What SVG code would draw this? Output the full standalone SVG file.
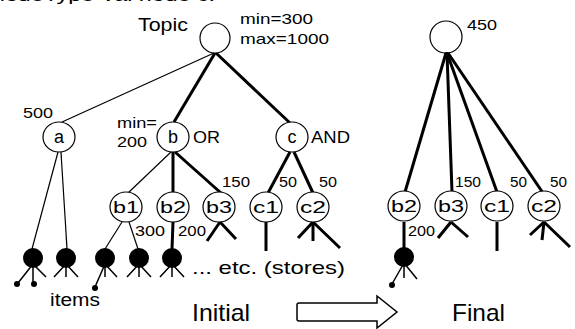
<svg xmlns="http://www.w3.org/2000/svg" width="575" height="329" viewBox="0 0 575 329">
<style>
text{font-family:"Liberation Sans",Arial,sans-serif;fill:#000}
.lbl{font-size:15px}
.nl{font-size:18px;text-anchor:middle}
.nl2{font-size:17px;text-anchor:middle}
.big{font-size:24px}
.node{fill:#fff;stroke:#000;stroke-width:1.2}
.item{fill:#000}
.thin{stroke:#000;stroke-width:1.2;fill:none}
.thick{stroke:#000;stroke-width:3;fill:none}
.leg{stroke:#000;stroke-width:1.5;fill:none}
</style>
<text x="-8" y="1" style="font-size:17px" textLength="223" lengthAdjust="spacingAndGlyphs">nodeType Val node c:</text>
<g id="connectors">
  <line class="thin" x1="214" y1="53" x2="62" y2="122"/>
  <line class="thick" x1="215" y1="53" x2="174" y2="122"/>
  <line class="thick" x1="216" y1="53" x2="290" y2="123"/>
  <line class="thin" x1="58" y1="152" x2="32" y2="249"/>
  <line class="thin" x1="61" y1="152" x2="67" y2="249"/>
  <line class="thin" x1="171" y1="152" x2="128" y2="193"/>
  <line class="thick" x1="173" y1="152" x2="173" y2="193"/>
  <line class="thick" x1="175" y1="152" x2="221" y2="193"/>
  <line class="thick" x1="290" y1="152" x2="268" y2="193"/>
  <line class="thick" x1="294" y1="152" x2="313" y2="193"/>
  <line class="thin" x1="122" y1="222" x2="105" y2="249"/>
  <line class="thin" x1="129" y1="222" x2="138" y2="249"/>
  <line class="thick" x1="173" y1="222" x2="172" y2="249"/>
  <line class="thick" x1="220" y1="222" x2="207" y2="241"/>
  <line class="thick" x1="220" y1="222" x2="236" y2="239"/>
  <line class="thick" x1="266" y1="222" x2="266" y2="251"/>
  <line class="thick" x1="313" y1="222" x2="298" y2="238"/>
  <line class="thick" x1="313" y1="222" x2="313" y2="241"/>
  <line class="thick" x1="313" y1="222" x2="340" y2="248"/>
  <line class="thick" x1="446" y1="53" x2="405" y2="192"/>
  <line class="thick" x1="447" y1="53" x2="452" y2="192"/>
  <line class="thick" x1="447" y1="53" x2="497" y2="192"/>
  <line class="thick" x1="448" y1="53" x2="543" y2="193"/>
  <line class="thick" x1="404" y1="222" x2="404" y2="249"/>
  <line class="thick" x1="451" y1="222" x2="438" y2="238"/>
  <line class="thick" x1="451" y1="222" x2="468" y2="237"/>
  <line class="thick" x1="497" y1="222" x2="497" y2="251"/>
  <line class="thick" x1="544" y1="222" x2="530" y2="235"/>
  <line class="thick" x1="544" y1="222" x2="542" y2="240"/>
  <line class="thick" x1="544" y1="222" x2="570" y2="247"/>
</g>
<g id="topic">
  <circle class="node" cx="215" cy="38" r="15"/>
  <text x="138" y="31" style="font-size:19px" textLength="50" lengthAdjust="spacingAndGlyphs">Topic</text>
  <text class="lbl" x="240" y="24" textLength="73" lengthAdjust="spacingAndGlyphs">min=300</text>
  <text class="lbl" x="240" y="44" textLength="89" lengthAdjust="spacingAndGlyphs">max=1000</text>
</g>
<g id="node-a">
  <ellipse class="node" cx="59" cy="137" rx="16" ry="15"/>
  <text class="nl" x="59" y="143">a</text>
  <text class="lbl" x="23" y="118" textLength="30" lengthAdjust="spacingAndGlyphs">500</text>
</g>
<g id="node-b">
  <ellipse class="node" cx="173" cy="137" rx="16" ry="15"/>
  <text class="nl" x="173" y="143">b</text>
  <text class="lbl" x="117" y="128" textLength="40" lengthAdjust="spacingAndGlyphs">min=</text>
  <text class="lbl" x="117" y="147" textLength="30" lengthAdjust="spacingAndGlyphs">200</text>
  <text x="193" y="143" style="font-size:16px" textLength="27" lengthAdjust="spacingAndGlyphs">OR</text>
</g>
<g id="node-c">
  <ellipse class="node" cx="292" cy="137" rx="16" ry="15"/>
  <text class="nl" x="292" y="143">c</text>
  <text x="311" y="143" style="font-size:16px" textLength="39" lengthAdjust="spacingAndGlyphs">AND</text>
</g>
<g id="node-b1">
  <ellipse class="node" cx="126" cy="207" rx="16" ry="15"/>
  <text class="nl2" x="126" y="213" textLength="26" lengthAdjust="spacingAndGlyphs">b1</text>
</g>
<g id="node-b2">
  <ellipse class="node" cx="173" cy="207" rx="16" ry="15"/>
  <text class="nl2" x="173" y="213" textLength="26" lengthAdjust="spacingAndGlyphs">b2</text>
</g>
<g id="node-b3">
  <ellipse class="node" cx="219" cy="207" rx="16" ry="15"/>
  <text class="nl2" x="219" y="213" textLength="26" lengthAdjust="spacingAndGlyphs">b3</text>
  <text class="lbl" x="222" y="187" textLength="28" lengthAdjust="spacingAndGlyphs">150</text>
</g>
<g id="node-c1">
  <ellipse class="node" cx="266" cy="207" rx="16" ry="15"/>
  <text class="nl2" x="266" y="213" textLength="26" lengthAdjust="spacingAndGlyphs">c1</text>
  <text class="lbl" x="279" y="187" textLength="18" lengthAdjust="spacingAndGlyphs">50</text>
</g>
<g id="node-c2">
  <ellipse class="node" cx="313" cy="207" rx="16" ry="15"/>
  <text class="nl2" x="313" y="213" textLength="26" lengthAdjust="spacingAndGlyphs">c2</text>
  <text class="lbl" x="319" y="187" textLength="18" lengthAdjust="spacingAndGlyphs">50</text>
</g>
<g id="labels-initial">
  <text class="lbl" x="135" y="236" textLength="30" lengthAdjust="spacingAndGlyphs">300</text>
  <text class="lbl" x="178" y="236" textLength="28" lengthAdjust="spacingAndGlyphs">200</text>
  <text x="192" y="274" style="font-size:19px" textLength="153" lengthAdjust="spacingAndGlyphs">... etc. (stores)</text>
  <text x="50" y="306" style="font-size:18px" textLength="50" lengthAdjust="spacingAndGlyphs">items</text>
  <text class="big" x="192" y="321" textLength="58" lengthAdjust="spacingAndGlyphs">Initial</text>
</g>
<g id="item-1">
  <circle class="item" cx="33" cy="258" r="10"/>
  <path class="leg" d="M33 264L18 283M33 264V283M33 264L46 277"/>
  <circle class="item" cx="17" cy="284" r="3"/>
  <circle class="item" cx="34" cy="284" r="3"/>
</g>
<g id="item-2">
  <circle class="item" cx="66" cy="258" r="10"/>
  <path class="leg" d="M66 264L54 277M66 264V277M66 264L78 277"/>
</g>
<g id="item-3">
  <circle class="item" cx="105" cy="258" r="10"/>
  <path class="leg" d="M105 264L95 287M105 264V277M105 264L117 277"/>
  <circle class="item" cx="95" cy="288" r="3"/>
</g>
<g id="item-4">
  <circle class="item" cx="139" cy="258" r="10"/>
  <path class="leg" d="M139 264L127 277M139 264V277M139 264L151 277"/>
</g>
<g id="item-5">
  <circle class="item" cx="172" cy="258" r="10"/>
  <path class="leg" d="M172 264L160 277M172 264V277M172 264L184 277"/>
</g>
<g id="arrow">
  <path d="M299 303H377V296L397 312L377 328V321H299Q297 321 297 319V305Q297 303 299 303Z" fill="#fff" stroke="#000" stroke-width="1.5"/>
</g>
<g id="final-root">
  <circle class="node" cx="446" cy="37" r="16"/>
  <circle cx="447" cy="55" r="3" fill="#000"/>
  <text class="lbl" x="467" y="30" textLength="30" lengthAdjust="spacingAndGlyphs">450</text>
</g>
<g id="final-b2">
  <ellipse class="node" cx="404" cy="206" rx="16" ry="15"/>
  <text class="nl2" x="404" y="212" textLength="26" lengthAdjust="spacingAndGlyphs">b2</text>
  <text class="lbl" x="408" y="236" textLength="27" lengthAdjust="spacingAndGlyphs">200</text>
</g>
<g id="final-b3">
  <ellipse class="node" cx="451" cy="206" rx="16" ry="15"/>
  <text class="nl2" x="451" y="212" textLength="26" lengthAdjust="spacingAndGlyphs">b3</text>
  <text class="lbl" x="455" y="187" textLength="26" lengthAdjust="spacingAndGlyphs">150</text>
</g>
<g id="final-c1">
  <ellipse class="node" cx="497" cy="206" rx="16" ry="15"/>
  <text class="nl2" x="497" y="212" textLength="26" lengthAdjust="spacingAndGlyphs">c1</text>
  <text class="lbl" x="510" y="187" textLength="17" lengthAdjust="spacingAndGlyphs">50</text>
</g>
<g id="final-c2">
  <ellipse class="node" cx="544" cy="206" rx="16" ry="15"/>
  <text class="nl2" x="544" y="212" textLength="26" lengthAdjust="spacingAndGlyphs">c2</text>
  <text class="lbl" x="550" y="187" textLength="17" lengthAdjust="spacingAndGlyphs">50</text>
</g>
<g id="final-item">
  <circle class="item" cx="404" cy="257" r="10"/>
  <path class="leg" d="M404 263L392 284M404 263V278M404 263L417 279"/>
  <circle class="item" cx="392" cy="285" r="3"/>
</g>
<text class="big" x="452" y="321" textLength="53" lengthAdjust="spacingAndGlyphs">Final</text>
</svg>
